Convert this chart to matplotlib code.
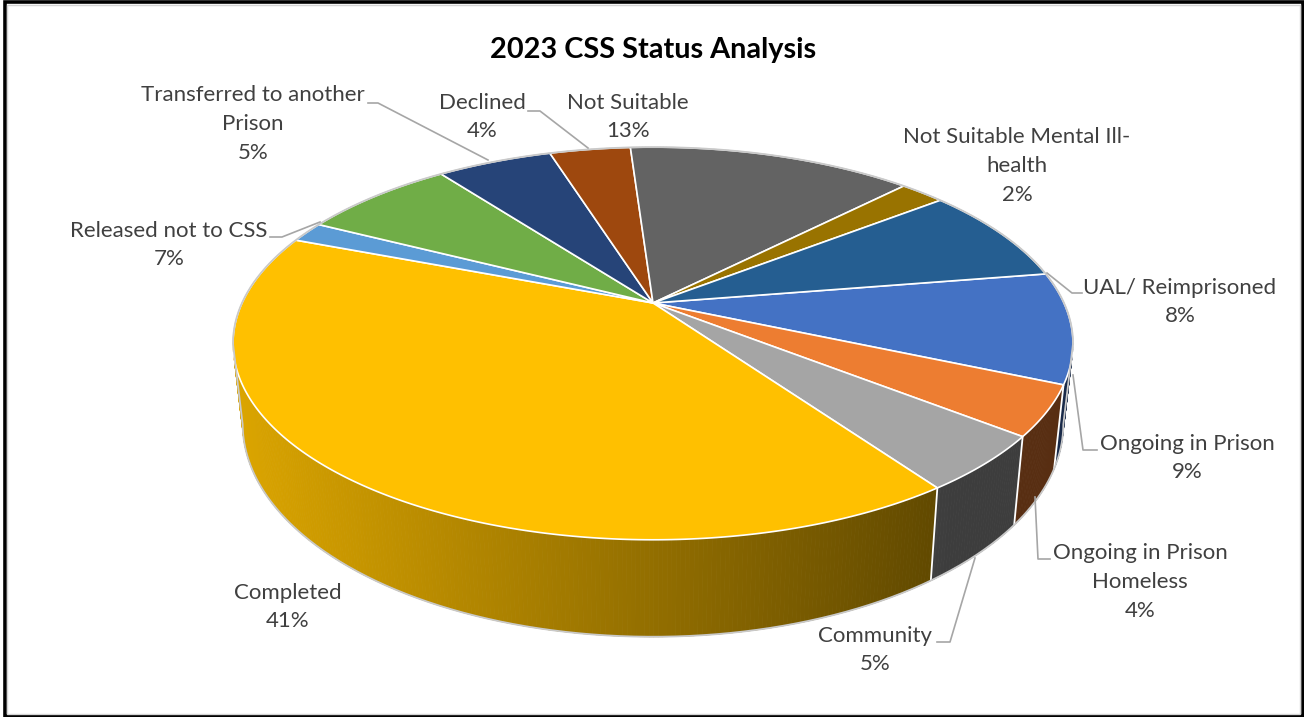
import numpy as np
import matplotlib.pyplot as plt
from matplotlib.patches import Polygon, Rectangle
from matplotlib.collections import PolyCollection
from matplotlib.colors import to_rgb

# data, in the order Excel drew the slices (clockwise)
categories = ["Ongoing in Prison", "Ongoing in Prison\nHomeless", "Community", "Completed", "",
              "Released not to CSS", "Transferred to another\nPrison", "Declined", "Not Suitable",
              "Not Suitable Mental Ill-\nhealth", "UAL/ Reimprisoned"]
values = [9.1, 4.1, 4.6, 40.6, 1.7, 7.2, 5.4, 3.8, 13.4, 2.1, 8.0]
colors = ["#4472C4", "#ED7D31", "#A5A5A5", "#FFC000", "#5B9BD5", "#70AD47",
          "#264478", "#9E480E", "#636363", "#997300", "#255E91"]

plt.rcParams['font.family'] = ['Lato', 'DejaVu Sans']

# 3d pie geometry (pixels)
CX, CY = 653, 303          # apex of the wedges
A, B, K = 411, 188, 0.206  # radii + perspective
D0, Q = 77, 0.977          # depth, shrink of the bottom face
START = 80.8               # first slice, degrees clockwise from 12 o'clock


def rim(theta, bottom=False):
    t = np.radians(theta)
    u, v = np.sin(t), -np.cos(t)
    s = 1 / (1 - K * v)
    x = CX + A * u * s
    y = CY + B * v * s
    if bottom:
        return CX + (x - CX) * Q, y + D0 * s
    return x, y


def shade(x):
    return np.clip(0.86 - 0.48 * (x - 233) / 707, 0.37, 0.9)


fig = plt.figure(figsize=(13.04, 7.17), dpi=100)
ax = fig.add_axes([0, 0, 1, 1])
ax.set_xlim(0, 1304)
ax.set_ylim(717, 0)
ax.axis('off')

total = sum(values)
bounds = START + np.concatenate([[0], np.cumsum(values)]) / total * 360

# side walls, back to front
quads, qcols, qdepth = [], [], []
for i in range(len(values)):
    n = max(int((bounds[i + 1] - bounds[i]) * 2), 2)
    th = np.linspace(bounds[i], bounds[i + 1], n + 1)
    tx, ty = rim(th)
    bx, by = rim(th, bottom=True)
    for j in range(n):
        quads.append([(tx[j], ty[j]), (tx[j + 1], ty[j + 1]),
                      (bx[j + 1], by[j + 1]), (bx[j], by[j])])
        xm = (tx[j] + tx[j + 1]) / 2
        qcols.append(np.array(to_rgb(colors[i])) * shade(xm))
        qdepth.append(-np.cos(np.radians((th[j] + th[j + 1]) / 2)))
order = np.argsort(qdepth)
quads = [quads[o] for o in order]
qcols = [qcols[o] for o in order]
ax.add_collection(PolyCollection(quads, facecolors=qcols, edgecolors=qcols,
                                 linewidths=0.6, zorder=1))

for b in bounds[:-1]:
    x0, y0 = rim(b)
    x1, y1 = rim(b, bottom=True)
    ax.plot([x0, x1], [y0, y1], color='white', lw=1.3, solid_capstyle='butt', zorder=1.1)

# top face
for i in range(len(values)):
    th = np.linspace(bounds[i], bounds[i + 1], 200)
    tx, ty = rim(th)
    pts = np.column_stack([np.r_[CX, tx], np.r_[CY, ty]])
    ax.add_patch(Polygon(pts, closed=True, facecolor=colors[i], edgecolor='white',
                         lw=1.2, joinstyle='round', zorder=2))

# outer outline
th_top = np.linspace(102, -102, 400)
th_bot = np.linspace(258, 102, 400)
ox = np.r_[rim(th_top)[0], rim(th_bot, bottom=True)[0]]
oy = np.r_[rim(th_top)[1], rim(th_bot, bottom=True)[1]]
ax.plot(np.r_[ox, ox[0]], np.r_[oy, oy[0]], color='#c9c9c9', lw=1.3, zorder=3)

# data labels
label_xy = [(1187, 458), (1140, 582), (875, 650), (288, 607), None, (169, 245),
            (253, 124), (482, 117), (628, 117), (1017, 166), (1180, 302)]
leaders = {
    0: [(1073, 375), (1083, 450), (1097, 450)],
    1: [(1035, 497), (1038, 559), (1050, 559)],
    2: [(975, 558), (950, 642), (937, 642)],
    5: [(270, 237), (282, 237), (320, 222)],
    6: [(368, 103), (378, 103), (488, 160)],
    7: [(528, 111), (540, 111), (588, 148)],
    10: [(1047, 273), (1072, 293), (1082, 293)],
}
for i, name in enumerate(categories):
    if not name:
        continue
    pct = f"{round(values[i] / total * 100):.0f}%"
    x, y = label_xy[i]
    ax.text(x, y, f"{name}\n{pct}", ha='center', va='center', fontsize=16,
            color='#404040', linespacing=1.55, zorder=4)
for pts in leaders.values():
    px, py = zip(*pts)
    ax.plot(px, py, color='#a6a6a6', lw=1.2, zorder=3)

ax.text(653, 50, "2023 CSS Status Analysis", ha='center', va='center',
        fontsize=20.8, fontweight='bold', color='black')

# frame
ax.add_patch(Rectangle((4.5, 2), 1298, 714, fill=False, edgecolor='black', lw=2.6, zorder=5))
ax.add_patch(Rectangle((7, 5), 1293, 709, fill=False, edgecolor='#d4d4d4', lw=1, zorder=5))

fig.savefig('out.png', dpi=100)
